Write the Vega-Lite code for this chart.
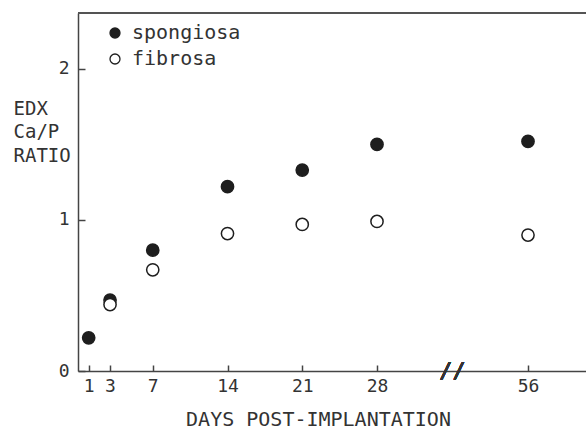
{
  "$schema": "https://vega.github.io/schema/vega-lite/v6.json",
  "autosize": "none",
  "width": 508,
  "height": 358,
  "padding": {"left": 78, "top": 13, "right": 0, "bottom": 61},
  "background": "white",
  "config": {
    "view": {"stroke": null},
    "font": "DejaVu Sans Mono",
    "axis": {"grid": false, "domainColor": "#444", "tickColor": "#444", "labelColor": "#333", "titleColor": "#333", "labelFont": "DejaVu Sans Mono", "titleFont": "DejaVu Sans Mono", "titleFontWeight": "normal", "domainWidth": 1.5, "tickWidth": 1.5}
  },
  "data": {
    "values": [
      {"day": 1, "ratio": 0.22, "tissue": "spongiosa"},
      {"day": 3, "ratio": 0.47, "tissue": "spongiosa"},
      {"day": 7, "ratio": 0.80, "tissue": "spongiosa"},
      {"day": 14, "ratio": 1.22, "tissue": "spongiosa"},
      {"day": 21, "ratio": 1.33, "tissue": "spongiosa"},
      {"day": 28, "ratio": 1.50, "tissue": "spongiosa"},
      {"day": 56, "ratio": 1.52, "tissue": "spongiosa"},
      {"day": 3, "ratio": 0.44, "tissue": "fibrosa"},
      {"day": 7, "ratio": 0.67, "tissue": "fibrosa"},
      {"day": 14, "ratio": 0.91, "tissue": "fibrosa"},
      {"day": 21, "ratio": 0.97, "tissue": "fibrosa"},
      {"day": 28, "ratio": 0.99, "tissue": "fibrosa"},
      {"day": 56, "ratio": 0.90, "tissue": "fibrosa"}
    ]
  },
  "encoding": {
    "x": {
      "field": "day", "type": "quantitative",
      "scale": {"domain": [0, 28, 56, 61.5], "range": [0, 299, 450, 508], "nice": false, "zero": false},
      "axis": {
        "values": [1, 3, 7, 14, 21, 28, 56],
        "tickSize": -6,
        "labelPadding": 12,
        "labelFontSize": 18,
        "title": "DAYS POST-IMPLANTATION",
        "titleFontSize": 20,
        "titleAlign": "center",
        "titleBaseline": "top",
        "titleX": 240,
        "titleY": 38
      }
    },
    "y": {
      "field": "ratio", "type": "quantitative",
      "scale": {"domain": [0, 2.37], "nice": false},
      "axis": {
        "values": [0, 1, 2],
        "tickSize": -7,
        "labelPadding": 16,
        "labelFontSize": 18,
        "title": ["EDX", "Ca/P", "RATIO"],
        "titleFontSize": 19,
        "titleAngle": 0,
        "titleAlign": "left",
        "titleBaseline": "top",
        "titleLineHeight": 23.5,
        "titleX": -65,
        "titleY": 86
      }
    }
  },
  "layer": [
    {
      "mark": {"type": "rule", "color": "#555", "strokeWidth": 1.5},
      "encoding": {"y": {"datum": 2.37}, "x": {"datum": 0}, "x2": {"datum": 61.5}}
    },
    {
      "mark": {"type": "point", "shape": "circle", "filled": true, "stroke": "#1e1e1e", "strokeWidth": 1.5, "size": 150, "opacity": 1},
      "encoding": {
        "fill": {
          "field": "tissue", "type": "nominal",
          "scale": {"domain": ["spongiosa", "fibrosa"], "range": ["#1e1e1e", "#ffffff"]},
          "legend": {
            "title": null,
            "orient": "none",
            "legendX": 27,
            "legendY": 10,
            "symbolType": "circle",
            "symbolSize": 100,
            "symbolStrokeColor": "#1e1e1e",
            "symbolStrokeWidth": 1.3,
            "labelFont": "DejaVu Sans Mono",
            "labelFontSize": 20,
            "labelColor": "#333",
            "labelOffset": 7,
            "rowPadding": 6
          }
        }
      }
    },
    {
      "mark": {"type": "text", "text": "//", "fontSize": 22, "color": "#333", "align": "center", "baseline": "middle", "font": "DejaVu Sans Mono"},
      "encoding": {"x": {"datum": 42}, "y": {"datum": 0}}
    }
  ]
}
